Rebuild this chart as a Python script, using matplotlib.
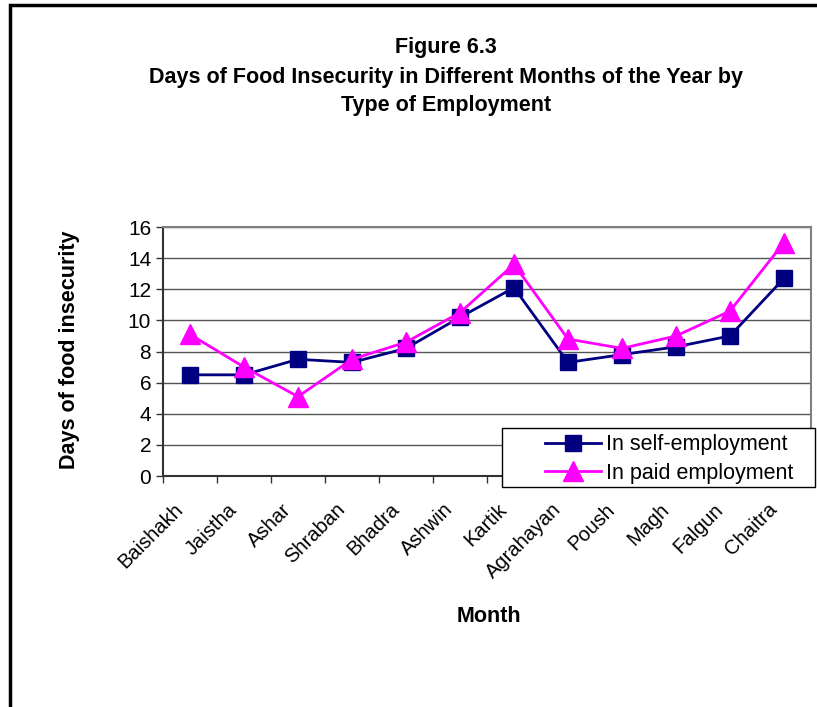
import matplotlib
matplotlib.use('Agg')
import matplotlib.pyplot as plt
import matplotlib.patches as patches
import matplotlib.transforms as mtransforms
import numpy as np

plt.rcParams['font.family'] = ['Liberation Sans', 'DejaVu Sans']

# Data
months = ['Baishakh', 'Jaistha', 'Ashar', 'Shraban', 'Bhadra', 'Ashwin',
          'Kartik', 'Agrahayan', 'Poush', 'Magh', 'Falgun', 'Chaitra']
self_employment = [6.5, 6.5, 7.5, 7.3, 8.2, 10.2, 12.1, 7.3, 7.8, 8.3, 9.0, 12.7]
paid_employment = [9.1, 7.0, 5.1, 7.5, 8.6, 10.5, 13.6, 8.8, 8.2, 9.0, 10.6, 15.0]
y_ticks = [0, 2, 4, 6, 8, 10, 12, 14, 16]

W, H = 817, 707
fig = plt.figure(figsize=(W / 100, H / 100), dpi=100)

# Plot area in pixels: left 163, right 811, top 227, bottom 476
ax = fig.add_axes([163 / W, 1 - 476 / H, (811 - 163) / W, (476 - 227) / H])

x = np.arange(len(months))
ax.plot(x, self_employment, color='#000080', lw=2, marker='s', ms=11,
        label='In self-employment', zorder=3)
ax.plot(x, paid_employment, color='#FF00FF', lw=2, marker='^', ms=15,
        label='In paid employment', zorder=4)

ax.set_xlim(-0.5, len(months) - 0.5)
ax.set_ylim(0, 16)
ax.set_yticks(y_ticks)
ax.yaxis.grid(True, color='#555555', lw=1)
ax.set_axisbelow(True)

ax.set_xticks(x)
ax.set_xticklabels(months, rotation=45, ha='right', va='center',
                   rotation_mode='anchor', fontsize=14.5)
ax.set_xticks(np.arange(-0.5, len(months)), minor=True)
ax.tick_params(axis='x', which='major', length=0, pad=22)
ax.tick_params(axis='x', which='minor', length=5, width=1, color='#333333')
ax.tick_params(axis='y', length=5, width=1, color='#333333', labelsize=15)
offset = mtransforms.ScaledTranslation(-10 / 100, 0, fig.dpi_scale_trans)
for lab in ax.get_xticklabels():
    lab.set_transform(lab.get_transform() + offset)

for s in ['top', 'right']:
    ax.spines[s].set_color('#808080')
    ax.spines[s].set_linewidth(1.5)
for s in ['left', 'bottom']:
    ax.spines[s].set_color('#333333')
    ax.spines[s].set_linewidth(1.5)

fig.text(69 / W, 1 - 350 / H, 'Days of food insecurity', ha='center', va='center',
         rotation=90, fontsize=15.5, fontweight='bold')
fig.text(489 / W, 1 - 616 / H, 'Month', ha='center', va='center',
         fontsize=15.5, fontweight='bold')

fig.text(446 / W, 1 - 77 / H,
         'Figure 6.3\nDays of Food Insecurity in Different Months of the Year by\nType of Employment',
         ha='center', va='center', fontsize=15.5, fontweight='bold', linespacing=1.5)

# legend box drawn as its own rectangle (Excel style padding)
box = patches.Rectangle((502 / W, 1 - 487 / H), (815 - 502) / W, (487 - 428) / H,
                        transform=fig.transFigure, facecolor='white',
                        edgecolor='black', lw=1, zorder=5)
fig.patches.append(box)
leg = fig.legend(loc='center left', bbox_to_anchor=(545 / W, 1 - 459 / H),
                 fontsize=15.5, frameon=False, borderpad=0, labelspacing=0.35,
                 handlelength=2.6, handletextpad=0.25, borderaxespad=0)
leg.set_zorder(6)

# outer border of the figure frame
border = patches.Rectangle((10 / W, -0.1), 1.2, 1 - 5 / H + 0.1, transform=fig.transFigure,
                           fill=False, edgecolor='black', lw=2.5, clip_on=False)
fig.patches.append(border)

fig.savefig('out.png', dpi=100)
